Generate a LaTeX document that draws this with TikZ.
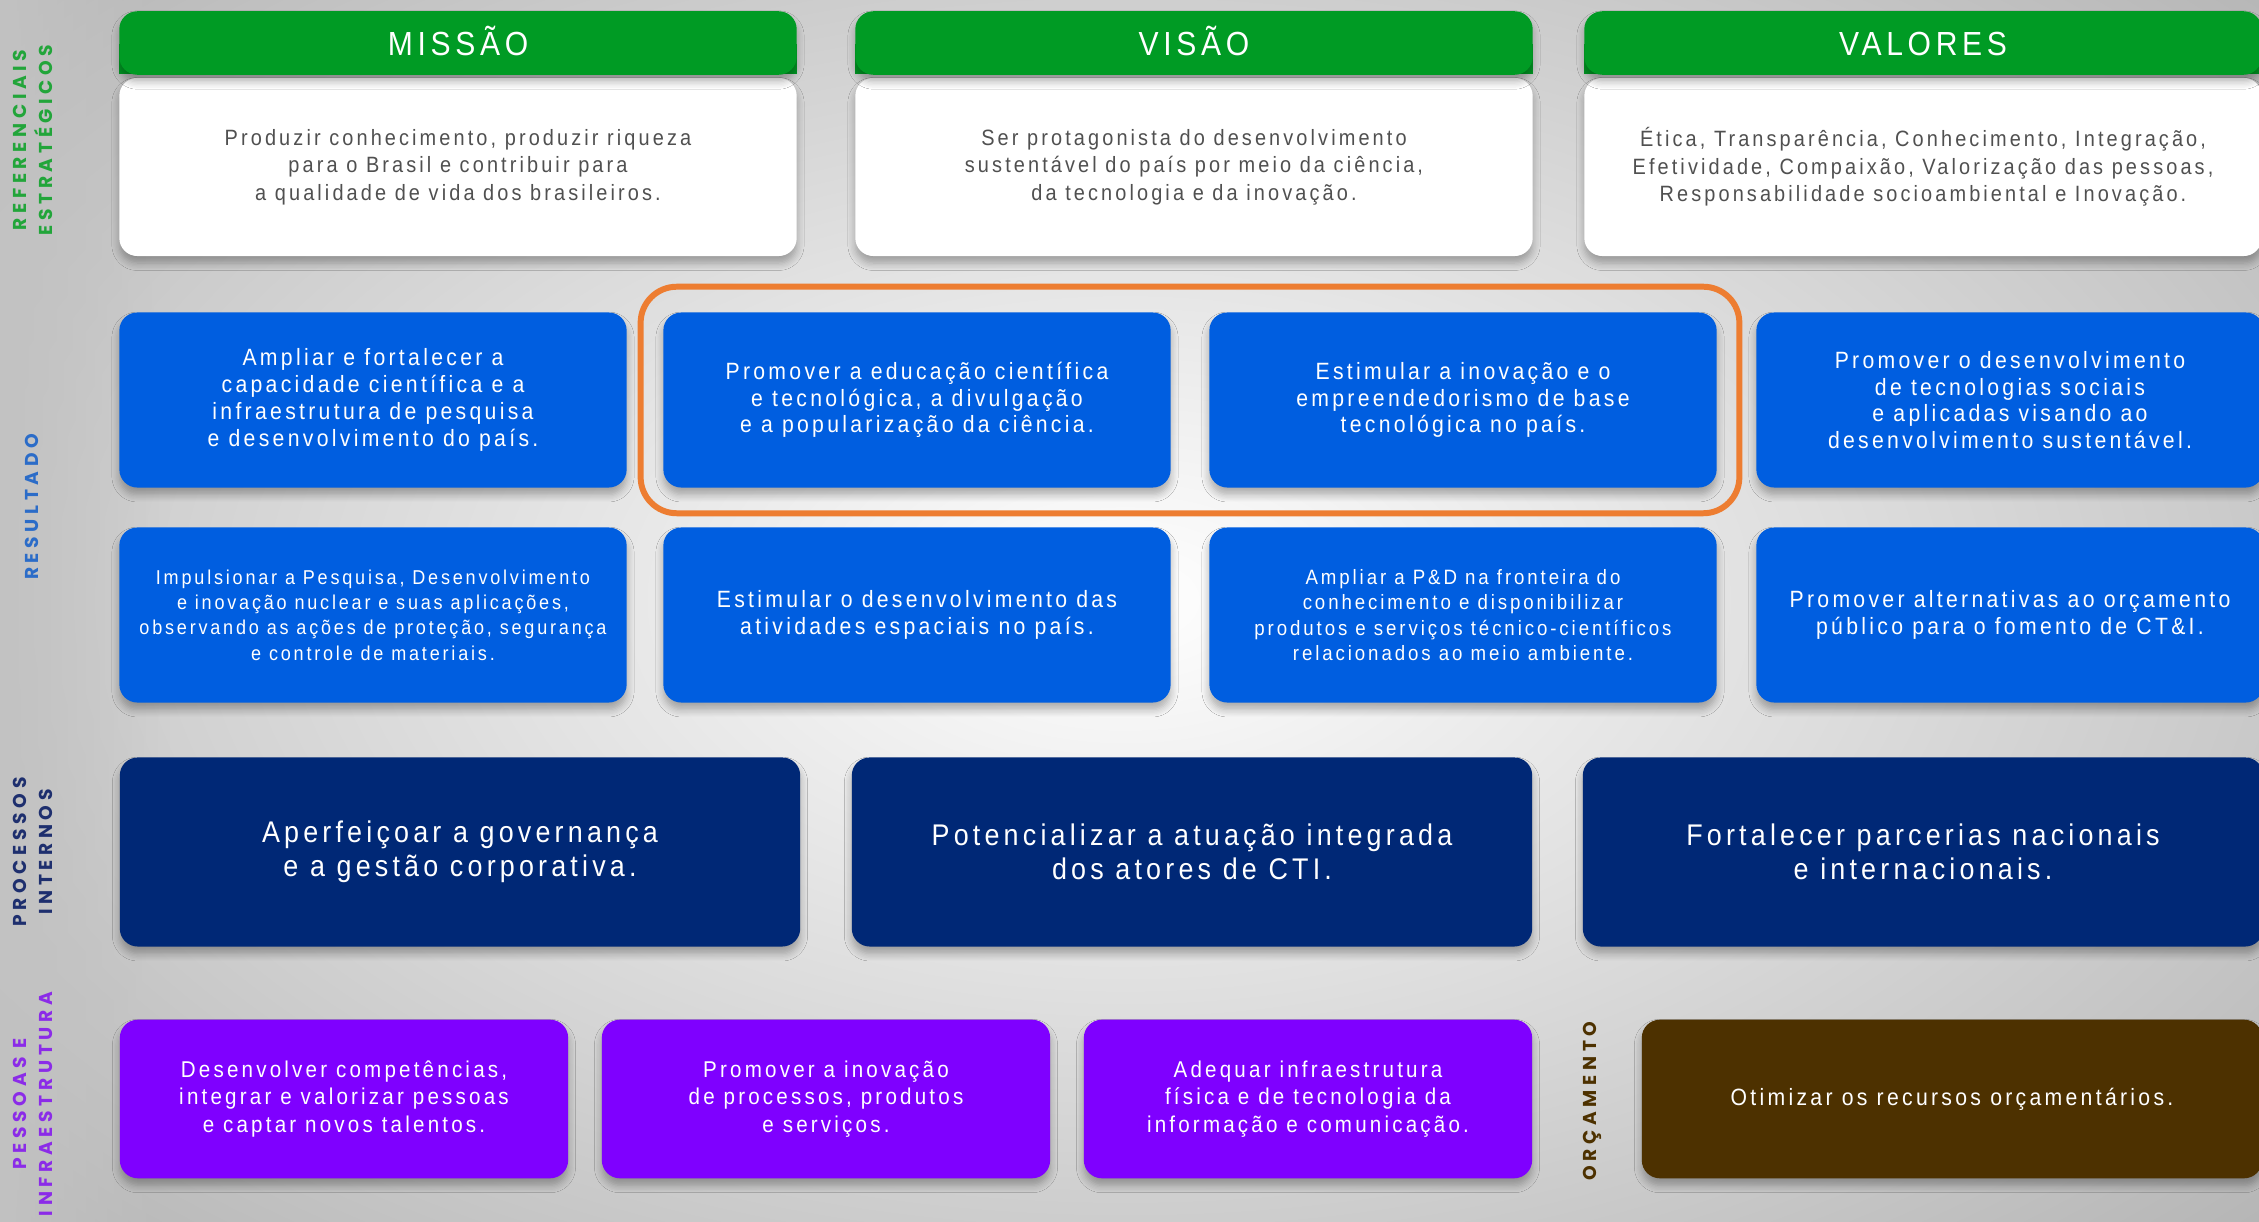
\documentclass[tikz,border=0pt]{standalone}
\usepackage{fontspec}
\setmainfont[FakeStretch=0.9,LetterSpace=14]{Liberation Sans}
\newfontfamily\sidefont[LetterSpace=25]{Poppins}
\usetikzlibrary{shadows.blur,fit,fadings}

\definecolor{hdgreen}{RGB}{0,155,36}
\definecolor{bodygray}{RGB}{80,80,80}
\definecolor{resblue}{RGB}{0,94,224}
\definecolor{procnavy}{RGB}{0,40,118}
\definecolor{pesspurple}{RGB}{127,0,255}
\definecolor{orcbrown}{RGB}{77,49,0}
\definecolor{hlorange}{RGB}{237,125,49}
\definecolor{sidegreen}{RGB}{34,165,58}
\definecolor{sideblue}{RGB}{43,108,200}
\definecolor{sidenavy}{RGB}{30,47,110}
\definecolor{sidepurple}{RGB}{139,43,232}

\tikzfading[name=fade right, left color=transparent!0, right color=transparent!100]

\tikzset{
    card/.style={rectangle, rounded corners=0.18cm, inner sep=0pt, align=center, text=white,
        blur shadow={shadow xshift=0pt, shadow yshift=-0.07cm, shadow blur steps=6, shadow opacity=30}},
    head/.style={card, fill=hdgreen, minimum width=6.77cm, minimum height=0.635cm, text height=0.245cm, text depth=0cm, font=\fontsize{9.5}{12}\selectfont},
    body/.style={card, fill=white, text=bodygray, minimum width=6.77cm, minimum height=1.78cm, font=\fontsize{6.3}{7.8}\selectfont},
    res/.style={card, fill=resblue, minimum width=5.07cm, minimum height=1.75cm, font=\fontsize{6.7}{7.6}\selectfont},
    proc/.style={card, fill=procnavy, minimum width=6.8cm, minimum height=1.89cm, font=\fontsize{8.5}{9.8}\selectfont},
    pess/.style={card, fill=pesspurple, minimum width=4.48cm, minimum height=1.585cm, font=\fontsize{6.5}{7.8}\selectfont},
    orc/.style={card, fill=orcbrown, minimum width=6.2cm, minimum height=1.585cm, font=\fontsize{6.7}{7.8}\selectfont},
    side/.style={rotate=90, align=center, font=\sidefont\bfseries\fontsize{5.3}{7.4}\selectfont},
}

\begin{document}
\begin{tikzpicture}[x=0.01cm, y=-0.01cm]
        \useasboundingbox (0,0) rectangle (2259,1222);
        \clip (0,0) rectangle (2259,1222);
        \shade[inner color=white, outer color=black!30] (-500,-350) rectangle (2750,1550);
        \fill[black!24, path fading=fade right] (0,0) rectangle (170,1222);

        \node[body] (mb) at (458, 167) {Produzir conhecimento, produzir riqueza\\para o Brasil e contribuir para\\a qualidade de vida dos brasileiros.};
        \node[body] (vb) at (1194, 167) {Ser protagonista do desenvolvimento\\sustentável  do país por meio da ciência,\\da tecnologia e da inovação.};
        \node[body] (ab) at (1923, 167) {Ética, Transparência, Conhecimento, Integração,\\Efetividade, Compaixão, Valorização das pessoas,\\Responsabilidade socioambiental e Inovação.};
        \fill[hdgreen] ([yshift=0.03cm]mb.north west) rectangle ([yshift=0.33cm]mb.north east);
        \fill[hdgreen] ([yshift=0.03cm]vb.north west) rectangle ([yshift=0.33cm]vb.north east);
        \fill[hdgreen] ([yshift=0.03cm]ab.north west) rectangle ([yshift=0.33cm]ab.north east);
        \node[head] (mh) at (458, 43) {MISSÃO};
        \node[head] (vh) at (1194, 43) {VISÃO};
        \node[head] (ah) at (1923, 43) {VALORES};

        \node[res] (r1) at (373, 400) {Ampliar e fortalecer a\\capacidade científica e a\\infraestrutura de pesquisa\\e desenvolvimento do país.};
        \node[res] (r2) at (917, 400) {Promover a educação científica\\e tecnológica, a divulgação\\e a popularização da ciência.};
        \node[res] (r3) at (1463, 400) {Estimular a inovação e o\\empreendedorismo de base\\tecnológica no país.};
        \node[res] (r4) at (2010, 400) {Promover o desenvolvimento\\de tecnologias sociais\\e aplicadas visando ao\\desenvolvimento sustentável.};
        \node[res, font=\fontsize{5.7}{7.2}\selectfont] (r5) at (373, 615) {Impulsionar a Pesquisa, Desenvolvimento\\e inovação nuclear e suas aplicações,\\observando as ações  de proteção, segurança\\e controle de materiais.};
        \node[res] (r6) at (917, 615) {Estimular o desenvolvimento das\\atividades espaciais no país.};
        \node[res, font=\fontsize{5.9}{7.2}\selectfont] (r7) at (1463, 615) {Ampliar a P\&D na fronteira do\\conhecimento e disponibilizar\\produtos e serviços técnico-científicos\\relacionados ao meio ambiente.};
        \node[res] (r8) at (2010, 615) {Promover alternativas ao orçamento\\público para o fomento de CT\&I.};
        \node[fit=(r2)(r3), draw=hlorange, line width=1.7pt, rounded corners=0.36cm, inner xsep=0.22cm, inner ysep=0.25cm] (hl) {};

        \node[proc] (p1) at (460, 852) {Aperfeiçoar a governança\\e a gestão corporativa.};
        \node[proc] (p2) at (1192, 852) {Potencializar a atuação integrada\\dos atores de CTI.};
        \node[proc] (p3) at (1923, 852) {Fortalecer parcerias nacionais\\e internacionais.};

        \node[pess] (q1) at (344, 1099) {Desenvolver competências,\\integrar e valorizar pessoas\\e captar novos talentos.};
        \node[pess] (q2) at (826, 1099) {Promover a inovação\\de processos, produtos\\e serviços.};
        \node[pess] (q3) at (1308, 1099) {Adequar infraestrutura\\física e de tecnologia da\\informação e comunicação.};
        \node[orc] (o1) at (1952, 1099) {Otimizar os recursos orçamentários.};

        \node[side, text=sidegreen] (s1) at (33, 140) {REFERENCIAIS\\ESTRATÉGICOS};
        \node[side, text=sideblue] (s2) at (32, 507) {RESULTADO};
        \node[side, text=sidenavy] (s3) at (33, 852) {PROCESSOS\\INTERNOS};
        \node[side, text=sidepurple] (s4) at (33, 1104) {PESSOAS E\\INFRAESTRUTURA};
        \node[side, text=orcbrown] (s5) at (1592, 1101) {ORÇAMENTO};
\end{tikzpicture}
\end{document}
